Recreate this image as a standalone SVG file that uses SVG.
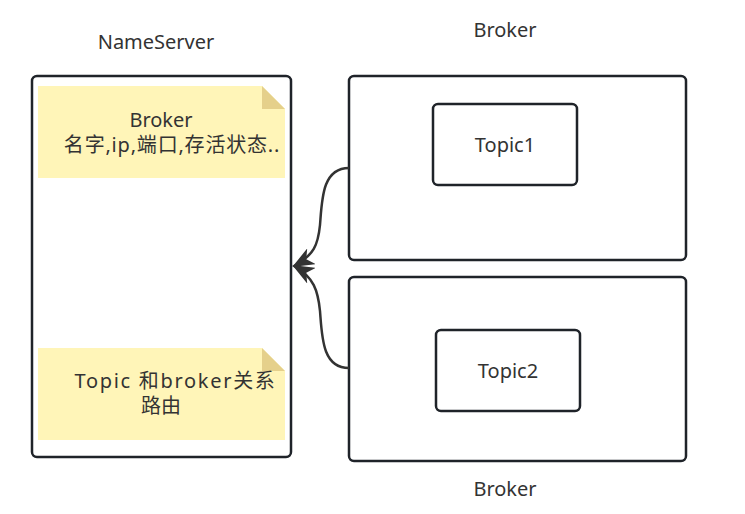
<svg xmlns="http://www.w3.org/2000/svg" width="745" height="514" viewBox="0 0 745 514">
<style>
.box{fill:#fff;stroke:#1f2329;stroke-width:2.5}
.note{fill:#fff5b8}
.fold{fill:#e5d08b}
.t{font-family:"Noto Sans","Noto Sans CJK SC",sans-serif;font-size:20px;fill:#333;text-anchor:middle}
.c{fill:none;stroke:#333;stroke-width:2.5}
</style>
<defs>
<marker id="ah" markerWidth="22" markerHeight="18" refX="20" refY="9" orient="auto" markerUnits="userSpaceOnUse" viewBox="0 0 22 18">
<path d="M0,0 L22,9 L0,18 L6,9 Z" fill="#333"/>
</marker>
</defs>
<rect width="745" height="514" fill="#fff"/>
<text class="t" x="156" y="49">NameServer</text>
<text class="t" x="505" y="37">Broker</text>
<text class="t" x="505" y="496">Broker</text>
<g id="nameserver">
<rect class="box" x="32" y="76" width="259" height="381" rx="5"/>
</g>
<g id="note1">
<path class="note" d="M38,86 H262 L285,109 V178 H38 Z"/>
<path class="fold" d="M262,86 L285,109 H262 Z"/>
<text class="t" x="161" y="127">Broker</text>
<text class="t" x="172" y="152" letter-spacing="0.8">名字,ip,端口,存活状态..</text>
</g>
<g id="note2">
<path class="note" d="M38,348 H262 L285,371 V440 H38 Z"/>
<path class="fold" d="M262,348 L285,371 H262 Z"/>
<text class="t" x="175.5" y="388" letter-spacing="1.7">Topic 和broker关系</text>
<text class="t" x="161" y="413">路由</text>
</g>
<g id="broker1">
<rect class="box" x="349" y="76" width="337" height="184" rx="5"/>
</g>
<g id="topic1">
<rect class="box" x="433" y="104" width="144" height="81" rx="5"/>
<text class="t" x="505" y="152">Topic1</text>
</g>
<g id="broker2">
<rect class="box" x="349" y="277" width="337" height="184" rx="5"/>
</g>
<g id="topic2">
<rect class="box" x="436" y="330" width="144" height="81" rx="5"/>
<text class="t" x="508" y="378">Topic2</text>
</g>
<g id="connectors">
<path class="c" d="M349,168 C322,168 322,200 320,225 C318,245 314,255 294,266" marker-end="url(#ah)"/>
<path class="c" d="M349,368 C322,368 322,336 320,311 C318,291 314,277 294,266" marker-end="url(#ah)"/>
</g>
</svg>
